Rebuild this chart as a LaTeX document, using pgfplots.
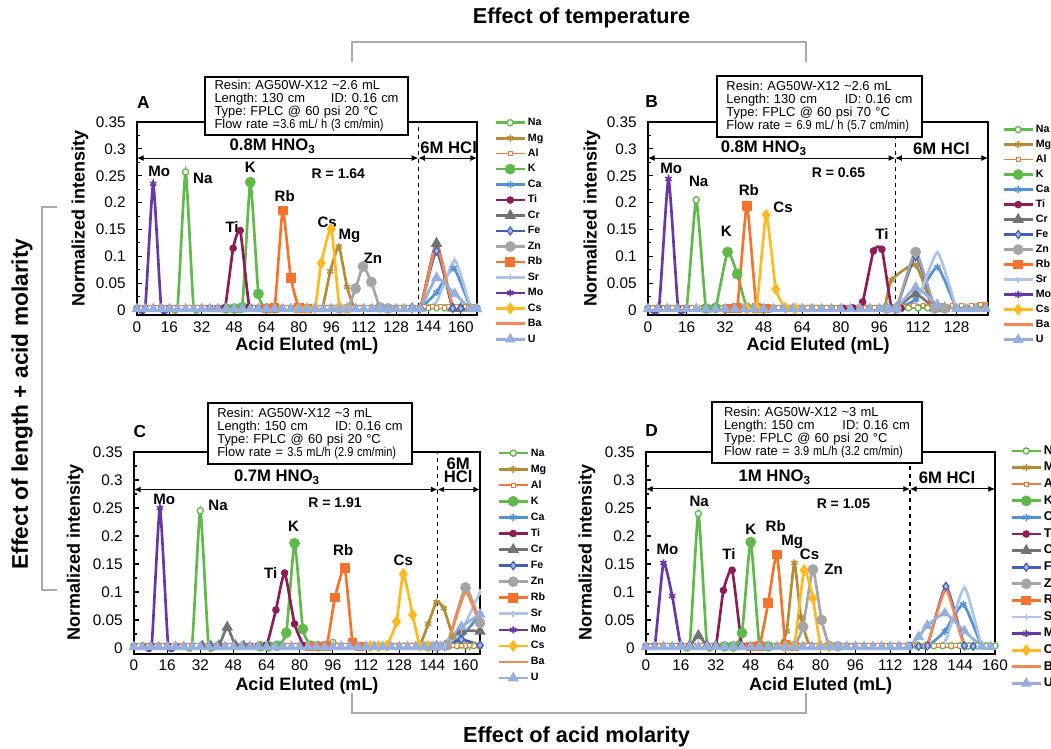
\documentclass[border=0pt]{standalone}
\usepackage{fontspec}
\setmainfont{Liberation Sans}
\usepackage{graphicx}
\usepackage{pgfplots}
\pgfplotsset{compat=1.18}
\usetikzlibrary{arrows.meta}

\definecolor{cNa}{RGB}{95,185,75}
\definecolor{cMg}{RGB}{178,140,55}
\definecolor{cAl}{RGB}{242,120,60}
\definecolor{cK}{RGB}{95,185,75}
\definecolor{cCa}{RGB}{85,145,210}
\definecolor{cTi}{RGB}{140,30,85}
\definecolor{cCr}{RGB}{115,115,115}
\definecolor{cFe}{RGB}{65,95,185}
\definecolor{cZn}{RGB}{165,165,165}
\definecolor{cRb}{RGB}{245,115,45}
\definecolor{cSr}{RGB}{172,196,234}
\definecolor{cMo}{RGB}{105,55,165}
\definecolor{cCs}{RGB}{255,185,35}
\definecolor{cBa}{RGB}{245,135,80}
\definecolor{cU}{RGB}{150,175,220}
\definecolor{brk}{RGB}{170,170,170}

\newcommand\fEl{\bfseries\fontsize{11.3}{12}\selectfont}
\newcommand\fAc{\bfseries\fontsize{12.5}{13}\selectfont}
\newcommand\fR{\bfseries\fontsize{10.5}{11}\selectfont}
\newcommand\fInfo{\fontsize{9.7}{9.8}\selectfont}

\tikzset{info/.style={draw, line width=1.6pt, fill=white, inner xsep=7pt, inner ysep=2pt, align=left, font=\fInfo}}

\pgfplotsset{
  elbase/.style={line width=2pt, smooth, tension=0.3},
  elNa/.style={elbase, color=cNa, mark=*, mark size=2.3pt, mark options={solid, fill=white, line width=1pt}},
  elMg/.style={elbase, color=cMg, mark=asterisk, mark size=2.7pt, mark options={solid, line width=1.1pt}},
  elAl/.style={elbase, color=cAl, line width=1.2pt, mark=square*, mark size=1.4pt, mark options={solid, fill=white, line width=0.7pt}},
  elK/.style={elbase, color=cK, mark=*, mark size=3pt, mark options={solid}},
  elCa/.style={elbase, color=cCa, mark=asterisk, mark size=2.7pt, mark options={solid, line width=1.1pt}},
  elTi/.style={elbase, color=cTi, mark=*, mark size=1.8pt, mark options={solid}},
  elCr/.style={elbase, color=cCr, mark=triangle*, mark size=3pt, mark options={solid}},
  elFe/.style={elbase, color=cFe, mark=diamond*, mark size=3pt, mark options={solid, fill=cFe!45!white, line width=0.9pt}},
  elZn/.style={elbase, color=cZn, mark=*, mark size=3pt, mark options={solid}},
  elRb/.style={elbase, color=cRb, mark=square*, mark size=2.6pt, mark options={solid}},
  elSr/.style={elbase, color=cSr, mark=|, mark size=2.2pt, mark options={solid, line width=1.1pt}},
  elMo/.style={elbase, color=cMo, mark=asterisk, mark size=2.7pt, mark options={solid, line width=1.2pt}},
  elCs/.style={elbase, color=cCs, mark=diamond*, mark size=3pt, mark options={solid}},
  elBa/.style={elbase, color=cBa, no marks},
  elU/.style={elbase, color=cU, mark=triangle*, mark size=2.8pt, mark options={solid}},
  panel/.style={
    scale only axis, anchor=south west,
    xmin=0, ymin=-0.01, ymax=0.35,
    axis line style={line width=1.5pt},
    tick pos=left, tick align=inside,
    major tick length=4pt, minor tick length=2.5pt,
    tick style={black, line width=0.8pt},
    ytick={0,0.05,0.1,0.15,0.2,0.25,0.3,0.35},
    yticklabels={0,0.05,0.1,0.15,0.2,0.25,0.3,0.35},
    minor ytick={0.025,0.075,0.125,0.175,0.225,0.275,0.325},
    /pgf/number format/assume math mode=true,
    tick label style={font=\fontsize{11.5}{12}\selectfont},
    yticklabel style={xshift=-5pt},
    xticklabel style={yshift=-1pt},
    xlabel={Acid Eluted (mL)}, ylabel={Normalized intensity},
    label style={font=\bfseries\fontsize{13.5}{14}\selectfont},
    xlabel style={at={(axis description cs:0.5,-0.16)}, anchor=center},
    ylabel style={at={(axis description cs:-0.168,0.5)}, anchor=center},
    legend cell align=left,
    legend image code/.code={\draw[mark repeat=2,mark phase=2,##1] plot coordinates {(0pt,0pt) (11pt,0pt) (22pt,0pt)};},
    legend style={draw=none, fill=none, inner sep=0pt, anchor=north west,
      nodes={inner sep=0pt, inner xsep=1.2pt, text height=6pt, text depth=1.7pt}},
  },
}

\begin{document}
\frenchspacing
\begin{tikzpicture}
\useasboundingbox (0,0) rectangle (788.25pt,561.75pt);

% ================= Panel A =================
\begin{axis}[panel, at={(102.75pt,325.2pt)}, width=255pt, height=145pt, xmax=168,
  xtick={0,16,...,160},
  legend style={at={(1.05,1.0245)}, font=\bfseries\fontsize{8}{8}\selectfont, row sep=3.9pt}]
\addplot[elNa] coordinates {(0,0.004)(4,0.004)(8,0.004)(12,0.004)(16,0.004)(20,0.004)(24,0.257)(28,0.004)(32,0.004)(36,0.004)(40,0.004)(44,0.004)(48,0.004)(52,0.004)(56,0.004)(60,0.004)(64,0.004)(68,0.004)(72,0.004)(76,0.004)(80,0.004)(84,0.004)(88,0.004)(92,0.004)(96,0.004)(100,0.004)(104,0.004)(108,0.004)(112,0.004)(116,0.004)(120,0.004)(124,0.004)(128,0.004)(132,0.004)(136,0.004)(140,0.004)(144,0.004)(148,0.004)(152,0.004)(156,0.004)(160,0.004)(164,0.004)(168,0.004)};
\addplot[elMg] coordinates {(87,0.003)(91.5,0.003)(95.5,0.072)(99.7,0.118)(103.8,0.043)(107.5,0.003)(112,0.003)};
\addplot[elAl] coordinates {(2,0.005)(6,0.005)(10,0.005)(14,0.005)(18,0.005)(22,0.005)(26,0.005)(30,0.005)(34,0.005)(38,0.005)(42,0.005)(46,0.005)(50,0.005)(54,0.005)(58,0.005)(62,0.005)(66,0.005)(70,0.005)(74,0.005)(78,0.005)(82,0.005)(86,0.005)(90,0.005)(94,0.005)(98,0.005)(102,0.005)(106,0.005)(110,0.005)(114,0.005)(118,0.005)(122,0.005)(126,0.005)(130,0.005)(134,0.005)(138,0.005)(142,0.006)(146,0.006)(150,0.006)(154,0.006)(158,0.006)(162,0.006)(166,0.006)};
\addplot[elK] coordinates {(44,0.003)(48,0.003)(52,0.005)(56,0.238)(60,0.03)(64,0.003)(68,0.003)};
\addplot[elCa] coordinates {(136,0.003)(140,0.003)(148,0.033)(156.5,0.078)(165,0.003)(168,0.003)};
\addplot[elTi] coordinates {(36,0.003)(40,0.003)(43.5,0.004)(47.5,0.115)(51,0.148)(55.5,0.006)(60,0.003)};
\addplot[elCr] coordinates {(136,0.003)(140,0.003)(148,0.124)(156,0.003)(160,0.003)};
\addplot[elFe] coordinates {(136,0.003)(140,0.003)(148,0.11)(156,0.003)(160,0.003)};
\addplot[elZn] coordinates {(100,0.003)(104,0.003)(108,0.04)(111.7,0.081)(115.8,0.052)(120,0.005)(124,0.003)};
\addplot[elRb] coordinates {(64,0.003)(68,0.004)(72,0.185)(76,0.06)(80,0.004)(84,0.003)};
\addplot[elSr] coordinates {(136,0.003)(140,0.003)(148,0.015)(157,0.093)(165,0.003)(168,0.003)};
\addplot[elMo] coordinates {(0,0.003)(4,0.003)(8,0.235)(12,0.003)(16,0.003)};
\addplot[elCs] coordinates {(80,0.003)(84,0.003)(88,0.004)(91,0.087)(96,0.151)(100,0.006)(104,0.003)};
\addplot[elBa] coordinates {(0,0.003)(132,0.003)(140,0.004)(148,0.12)(156,0.008)(162,0.008)(168,0.008)};
\addplot[elU] coordinates {(0,0.002)(4,0.002)(8,0.002)(12,0.002)(16,0.002)(20,0.002)(24,0.002)(28,0.002)(32,0.002)(36,0.002)(40,0.002)(44,0.002)(48,0.002)(52,0.002)(56,0.002)(60,0.002)(64,0.002)(68,0.002)(72,0.002)(76,0.002)(80,0.002)(84,0.002)(88,0.002)(92,0.002)(96,0.002)(100,0.002)(104,0.002)(108,0.002)(112,0.002)(116,0.002)(120,0.002)(124,0.002)(128,0.002)(132,0.002)(136,0.002)(140,0.002)(148,0.06)(157,0.03)(165,0.002)(168,0.002)};
\legend{Na,Mg,Al,K,Ca,Ti,Cr,Fe,Zn,Rb,Sr,Mo,Cs,Ba,U}
\draw[dashed, line width=0.9pt] (axis cs:139,-0.01) -- (axis cs:139,0.35);
\draw[{Latex[length=5pt,width=4.5pt]}-{Latex[length=5pt,width=4.5pt]}, line width=0.8pt] (axis cs:0,0.283) -- (axis cs:139,0.283);
\draw[{Latex[length=5pt,width=4.5pt]}-{Latex[length=5pt,width=4.5pt]}, line width=0.8pt] (axis cs:139,0.283) -- (axis cs:168,0.283);
\node[font=\fAc] at (axis cs:67,0.305) {0.8M HNO\textsubscript{3}};
\node[font=\fAc] at (axis cs:154,0.303) {6M HCl};
\node[font=\fR] at (axis cs:99.5,0.253) {R = 1.64};
\node[font=\fEl] at (axis cs:11,0.259) {Mo};
\node[font=\fEl] at (axis cs:32.5,0.245) {Na};
\node[font=\fEl] at (axis cs:47,0.155) {Ti};
\node[font=\fEl] at (axis cs:56,0.265) {K};
\node[font=\fEl] at (axis cs:73,0.212) {Rb};
\node[font=\fEl] at (axis cs:94,0.164) {Cs};
\node[font=\fEl] at (axis cs:105,0.138) {Mg};
\node[font=\fEl] at (axis cs:116.5,0.097) {Zn};
\end{axis}

% ================= Panel B =================
\begin{axis}[panel, at={(486pt,325.2pt)}, width=255pt, height=145pt, xmax=141,
  xtick={0,16,...,128},
  ylabel style={at={(axis description cs:-0.165,0.5)}},
  legend style={at={(1.041,0.989)}, font=\bfseries\fontsize{8}{8}\selectfont, row sep=3.55pt}]
\addplot[elNa] coordinates {(0,0.004)(4,0.004)(8,0.004)(12,0.004)(16,0.004)(20,0.205)(24,0.004)(28,0.004)(32,0.004)(36,0.004)(40,0.004)(44,0.004)(48,0.004)(52,0.004)(56,0.004)(60,0.004)(64,0.004)(68,0.004)(72,0.004)(76,0.004)(80,0.004)(84,0.004)(88,0.004)(92,0.004)(96,0.004)(100,0.004)(104,0.004)(108,0.004)(112,0.004)(116,0.004)(120,0.004)(124,0.004)(128,0.004)(132,0.004)(136,0.004)(140,0.004)};
\addplot[elMg] coordinates {(90,0.003)(94,0.003)(98,0.004)(101,0.056)(111,0.084)(118,0.004)(122,0.003)};
\addplot[elAl] coordinates {(2,0.005)(6,0.005)(10,0.005)(14,0.005)(18,0.005)(22,0.005)(26,0.005)(30,0.005)(34,0.005)(38,0.005)(42,0.005)(46,0.005)(50,0.005)(54,0.005)(58,0.005)(62,0.005)(66,0.005)(70,0.005)(74,0.005)(78,0.005)(82,0.005)(86,0.005)(90,0.005)(94,0.005)(98,0.005)(102,0.005)(106,0.007)(110,0.008)(114,0.008)(118,0.008)(122,0.008)(126,0.008)(130,0.008)(134,0.008)(138,0.01)};
\addplot[elK] coordinates {(24,0.003)(28,0.004)(33,0.108)(37,0.067)(41,0.004)(45,0.003)};
\addplot[elCa] coordinates {(99,0.003)(103,0.003)(111,0.02)(120,0.08)(128,0.003)(132,0.003)};
\addplot[elTi] coordinates {(81,0.003)(85,0.004)(89,0.015)(93.5,0.11)(97,0.113)(101,0.004)(105,0.003)};
\addplot[elCr] coordinates {(99,0.003)(103,0.003)(111,0.03)(119,0.003)(123,0.003)};
\addplot[elFe] coordinates {(99,0.003)(103,0.003)(111,0.1)(119,0.003)(123,0.003)};
\addplot[elZn] coordinates {(99,0.003)(103,0.003)(111,0.108)(119,0.003)(123,0.003)};
\addplot[elRb] coordinates {(33,0.003)(37,0.004)(41,0.194)(45,0.004)(49,0.003)};
\addplot[elSr] coordinates {(99,0.003)(103,0.003)(111,0.01)(120,0.107)(128,0.003)(132,0.003)};
\addplot[elMo] coordinates {(0,0.003)(4.5,0.003)(8.5,0.244)(12.5,0.003)(16,0.003)};
\addplot[elCs] coordinates {(41,0.003)(45,0.004)(49,0.177)(53,0.039)(57,0.004)(61,0.003)};
\addplot[elBa] coordinates {(0,0.003)(100,0.003)(103,0.005)(111,0.008)(120,0.01)(128,0.006)(134,0.006)(137,0.012)(141,0.012)};
\addplot[elU] coordinates {(0,0.002)(4,0.002)(8,0.002)(12,0.002)(16,0.002)(20,0.002)(24,0.002)(28,0.002)(32,0.002)(36,0.002)(40,0.002)(44,0.002)(48,0.002)(52,0.002)(56,0.002)(60,0.002)(64,0.002)(68,0.002)(72,0.002)(76,0.002)(80,0.002)(84,0.002)(88,0.002)(92,0.002)(96,0.002)(100,0.002)(103,0.002)(111,0.042)(120,0.01)(128,0.002)(132,0.002)(136,0.002)(140,0.002)};
\legend{Na,Mg,Al,K,Ca,Ti,Cr,Fe,Zn,Rb,Sr,Mo,Cs,Ba,U}
\draw[dashed, line width=0.9pt] (axis cs:102.5,-0.01) -- (axis cs:102.5,0.35);
\draw[{Latex[length=5pt,width=4.5pt]}-{Latex[length=5pt,width=4.5pt]}, line width=0.8pt] (axis cs:0,0.283) -- (axis cs:102.5,0.283);
\draw[{Latex[length=5pt,width=4.5pt]}-{Latex[length=5pt,width=4.5pt]}, line width=0.8pt] (axis cs:102.5,0.283) -- (axis cs:141,0.283);
\node[font=\fAc] at (axis cs:48,0.301) {0.8M HNO\textsubscript{3}};
\node[font=\fAc] at (axis cs:121.7,0.301) {6M HCl};
\node[font=\fR] at (axis cs:79,0.256) {R = 0.65};
\node[font=\fEl] at (axis cs:9.6,0.264) {Mo};
\node[font=\fEl] at (axis cs:21,0.24) {Na};
\node[font=\fEl] at (axis cs:32.5,0.146) {K};
\node[font=\fEl] at (axis cs:41.8,0.223) {Rb};
\node[font=\fEl] at (axis cs:56,0.192) {Cs};
\node[font=\fEl] at (axis cs:97,0.142) {Ti};
\end{axis}

% ================= Panel C =================
\begin{axis}[panel, at={(100.5pt,71.55pt)}, width=259.5pt, height=151.2pt, xmax=167,
  xtick={0,16,...,160},
  ylabel style={at={(axis description cs:-0.17,0.5)}},
  legend style={at={(1.049,1.021)}, font=\bfseries\fontsize{8}{8}\selectfont, row sep=4.35pt}]
\addplot[elNa] coordinates {(0,0.004)(4,0.004)(8,0.004)(12,0.004)(16,0.004)(20,0.004)(24,0.004)(28,0.004)(32,0.245)(36,0.004)(40,0.004)(44,0.004)(48,0.004)(52,0.004)(56,0.004)(60,0.004)(64,0.004)(68,0.004)(72,0.004)(76,0.004)(80,0.004)(84,0.004)(88,0.004)(92,0.004)(96,0.01)(100,0.004)(104,0.004)(108,0.004)(112,0.004)(116,0.004)(120,0.004)(124,0.004)(128,0.004)(132,0.004)(136,0.004)(140,0.004)(144,0.004)(148,0.004)(152,0.004)(156,0.004)(160,0.004)(164,0.004)(167,0.004)};
\addplot[elMg] coordinates {(130,0.003)(134,0.003)(138,0.005)(142,0.043)(146,0.082)(149.5,0.071)(154,0.02)(158,0.005)(162,0.003)};
\addplot[elAl] coordinates {(2,0.005)(6,0.005)(10,0.005)(14,0.005)(18,0.005)(22,0.005)(26,0.005)(30,0.005)(34,0.005)(38,0.005)(42,0.005)(46,0.005)(50,0.005)(54,0.005)(58,0.005)(62,0.005)(66,0.005)(70,0.005)(74,0.005)(78,0.005)(82,0.005)(86,0.005)(90,0.005)(94,0.005)(98,0.005)(102,0.005)(106,0.005)(110,0.005)(114,0.005)(118,0.005)(122,0.005)(126,0.005)(130,0.005)(134,0.005)(138,0.005)(142,0.005)(146,0.005)(150,0.005)(154,0.005)(158,0.005)(162,0.005)(166,0.005)};
\addplot[elK] coordinates {(61,0.003)(65,0.003)(69,0.004)(73.5,0.027)(77.5,0.187)(81.5,0.034)(85.5,0.004)(89,0.003)};
\addplot[elCa] coordinates {(146,0.003)(150,0.003)(158,0.02)(167,0.06)};
\addplot[elTi] coordinates {(56,0.003)(60,0.003)(64,0.005)(68.5,0.068)(72.7,0.134)(77.5,0.043)(82,0.004)(86,0.003)};
\addplot[elCr] coordinates {(33,0.003)(37,0.003)(41,0.004)(45,0.037)(49,0.004)(53,0.003)(146,0.003)(150,0.003)(158,0.03)(167,0.03)};
\addplot[elFe] coordinates {(146,0.003)(150,0.003)(158,0.015)(167,0.005)};
\addplot[elZn] coordinates {(142,0.003)(146,0.003)(151,0.005)(160,0.108)(167,0.045)};
\addplot[elRb] coordinates {(85,0.003)(89,0.003)(93,0.004)(97,0.09)(101.7,0.143)(105.5,0.01)(109,0.003)};
\addplot[elSr] coordinates {(146,0.003)(150,0.003)(158,0.03)(167,0.1)};
\addplot[elMo] coordinates {(0,0.003)(4.5,0.003)(8.5,0.004)(12.5,0.25)(16.5,0.004)(20.5,0.003)};
\addplot[elCs] coordinates {(114,0.003)(118,0.003)(122,0.004)(126.7,0.047)(130,0.132)(134.5,0.059)(138,0.004)(142,0.003)};
\addplot[elBa] coordinates {(0,0.003)(146,0.003)(151,0.005)(160,0.1)(167,0.04)};
\addplot[elU] coordinates {(0,0.002)(4,0.002)(8,0.002)(12,0.002)(16,0.002)(20,0.002)(24,0.002)(28,0.002)(32,0.002)(36,0.002)(40,0.002)(44,0.002)(48,0.002)(52,0.002)(56,0.002)(60,0.002)(64,0.002)(68,0.002)(72,0.002)(76,0.002)(80,0.002)(84,0.002)(88,0.002)(92,0.002)(96,0.002)(100,0.002)(104,0.002)(108,0.002)(112,0.002)(116,0.002)(120,0.002)(124,0.002)(128,0.002)(132,0.002)(136,0.002)(140,0.002)(144,0.002)(148,0.002)(158,0.038)(167,0.06)};
\legend{Na,Mg,Al,K,Ca,Ti,Cr,Fe,Zn,Rb,Sr,Mo,Cs,Ba,U}
\draw[dashed, line width=0.9pt] (axis cs:146.5,-0.01) -- (axis cs:146.5,0.35);
\draw[{Latex[length=5pt,width=4.5pt]}-{Latex[length=5pt,width=4.5pt]}, line width=0.8pt] (axis cs:0,0.283) -- (axis cs:146.5,0.283);
\draw[{Latex[length=5pt,width=4.5pt]}-{Latex[length=5pt,width=4.5pt]}, line width=0.8pt] (axis cs:146.5,0.283) -- (axis cs:167,0.283);
\node[font=\fAc] at (axis cs:69,0.305) {0.7M HNO\textsubscript{3}};
\node[font=\fAc, align=center] at (axis cs:156.5,0.317) {6M\\[-3pt]HCl};
\node[font=\fR] at (axis cs:97,0.26) {R = 1.91};
\node[font=\fEl] at (axis cs:14.6,0.266) {Mo};
\node[font=\fEl] at (axis cs:40.6,0.254) {Na};
\node[font=\fEl] at (axis cs:66,0.134) {Ti};
\node[font=\fEl] at (axis cs:77,0.217) {K};
\node[font=\fEl] at (axis cs:101,0.175) {Rb};
\node[font=\fEl] at (axis cs:130,0.156) {Cs};
\end{axis}

% ================= Panel D =================
\begin{axis}[panel, at={(484.5pt,71.55pt)}, width=261.75pt, height=151.2pt, xmax=160,
  xtick={0,16,...,160},
  ylabel style={at={(axis description cs:-0.169,0.5)}},
  legend style={at={(1.043,1.036)}, font=\bfseries\fontsize{9.5}{9.5}\selectfont, row sep=3.45pt,
    nodes={text height=7pt, text depth=2pt}}]
\addplot[elNa] coordinates {(0,0.004)(4,0.004)(8,0.004)(12,0.004)(16,0.004)(20,0.004)(24,0.24)(28,0.004)(32,0.004)(36,0.004)(40,0.004)(44,0.004)(48,0.004)(52,0.004)(56,0.004)(60,0.004)(64,0.004)(68,0.004)(72,0.004)(76,0.004)(80,0.004)(84,0.004)(88,0.004)(92,0.004)(96,0.004)(100,0.004)(104,0.004)(108,0.004)(112,0.004)(116,0.004)(120,0.004)(124,0.004)(128,0.004)(132,0.004)(136,0.004)(140,0.004)(144,0.004)(148,0.004)(152,0.004)(156,0.004)(160,0.004)};
\addplot[elMg] coordinates {(57,0.003)(61,0.003)(64.5,0.03)(68,0.152)(71,0.055)(75,0.004)(79,0.003)};
\addplot[elAl] coordinates {(2,0.005)(6,0.005)(10,0.005)(14,0.005)(18,0.005)(22,0.005)(26,0.005)(30,0.005)(34,0.005)(38,0.005)(42,0.005)(46,0.005)(50,0.005)(54,0.005)(58,0.005)(62,0.005)(66,0.005)(70,0.005)(74,0.005)(78,0.005)(82,0.005)(86,0.005)(90,0.005)(94,0.005)(98,0.005)(102,0.005)(106,0.005)(110,0.005)(114,0.005)(118,0.005)(122,0.005)(126,0.005)(130,0.005)(134,0.005)(138,0.005)(142,0.005)(146,0.005)(150,0.005)(154,0.005)(158,0.005)};
\addplot[elK] coordinates {(36,0.003)(40,0.003)(44,0.027)(48,0.189)(52,0.004)(56,0.003)};
\addplot[elCa] coordinates {(121,0.003)(125,0.003)(129,0.003)(137,0.03)(145.5,0.078)(154,0.003)(158,0.003)};
\addplot[elTi] coordinates {(28,0.003)(32,0.004)(35.5,0.103)(39.5,0.139)(44,0.004)(48,0.003)};
\addplot[elCr] coordinates {(16,0.003)(20,0.004)(24,0.022)(28,0.004)(32,0.003)};
\addplot[elFe] coordinates {(121,0.003)(125,0.003)(129,0.004)(137.5,0.11)(146,0.004)(150,0.003)};
\addplot[elZn] coordinates {(64,0.003)(68,0.004)(72,0.038)(76.5,0.14)(80.5,0.05)(84,0.004)(88,0.003)};
\addplot[elRb] coordinates {(48,0.003)(52,0.004)(56,0.08)(60,0.167)(64,0.005)(68,0.003)};
\addplot[elSr] coordinates {(121,0.003)(125,0.003)(129,0.004)(137,0.01)(146,0.108)(154,0.003)(158,0.003)};
\addplot[elMo] coordinates {(0,0.003)(4,0.004)(8,0.152)(12,0.093)(16,0.004)(20,0.003)};
\addplot[elCs] coordinates {(64,0.003)(68,0.004)(72.5,0.139)(76.5,0.089)(80,0.004)(84,0.003)};
\addplot[elBa] coordinates {(0,0.003)(121,0.003)(125,0.005)(129,0.006)(137.5,0.105)(146,0.006)(160,0.006)};
\addplot[elU] coordinates {(0,0.002)(4,0.002)(8,0.002)(12,0.002)(16,0.002)(20,0.002)(24,0.002)(28,0.002)(32,0.002)(36,0.002)(40,0.002)(44,0.002)(48,0.002)(52,0.002)(56,0.002)(60,0.002)(64,0.002)(68,0.002)(72,0.002)(76,0.002)(80,0.002)(84,0.002)(88,0.002)(92,0.002)(96,0.002)(100,0.002)(104,0.002)(108,0.002)(112,0.002)(116,0.002)(120,0.002)(125,0.02)(129,0.04)(137,0.062)(146,0.03)(154,0.003)(158,0.002)};
\legend{Na,Mg,Al,K,Ca,Ti,Cr,Fe,Zn,Rb,Sr,Mo,Cs,Ba,U}
\draw[dashed, line width=0.9pt] (axis cs:121,-0.01) -- (axis cs:121,0.35);
\draw[{Latex[length=5pt,width=4.5pt]}-{Latex[length=5pt,width=4.5pt]}, line width=0.8pt] (axis cs:0,0.284) -- (axis cs:121,0.284);
\draw[{Latex[length=5pt,width=4.5pt]}-{Latex[length=5pt,width=4.5pt]}, line width=0.8pt] (axis cs:121,0.284) -- (axis cs:160,0.284);
\node[font=\fAc] at (axis cs:59,0.305) {1M HNO\textsubscript{3}};
\node[font=\fAc] at (axis cs:138,0.305) {6M HCl};
\node[font=\fR] at (axis cs:90.5,0.257) {R = 1.05};
\node[font=\fEl] at (axis cs:9.8,0.176) {Mo};
\node[font=\fEl] at (axis cs:24.4,0.261) {Na};
\node[font=\fEl] at (axis cs:38,0.167) {Ti};
\node[font=\fEl] at (axis cs:48,0.212) {K};
\node[font=\fEl] at (axis cs:59.5,0.217) {Rb};
\node[font=\fEl] at (axis cs:67,0.19) {Mg};
\node[font=\fEl] at (axis cs:75,0.167) {Cs};
\node[font=\fEl] at (axis cs:86,0.141) {Zn};
\end{axis}

% ================= Info boxes =================
\node[info, text width=138pt, minimum width=152pt, minimum height=43.5pt] at (229.9pt,482.25pt)
 {Resin: AG50W-X12 \textasciitilde2.6 mL\\Length: 130 cm\hfill ID: 0.16 cm\\Type: FPLC @ 60 psi 20 °C\\Flow rate =\scalebox{0.85}[1]{3.6 mL/ h (3 cm/min)}};
\node[info, text width=139.5pt, minimum width=153.5pt, minimum height=45.75pt] at (614.6pt,481.9pt)
 {Resin: AG50W-X12 \textasciitilde2.6 mL\\Length: 130 cm\hfill ID: 0.16 cm\\Type: FPLC @ 60 psi 70 °C\\Flow rate = \scalebox{0.85}[1]{6.9 mL/ h (5.7 cm/min)}};
\node[info, text width=139pt, minimum width=153pt, minimum height=45.75pt] at (232.5pt,236.6pt)
 {Resin: AG50W-X12 \textasciitilde3 mL\\Length: 150 cm\hfill ID: 0.16 cm\\Type: FPLC @ 60 psi 20 °C\\Flow rate = \scalebox{0.85}[1]{3.5 mL/h (2.9 cm/min)}};
\node[info, inner xsep=9pt, text width=139.5pt, minimum width=157.5pt, minimum height=45.75pt] at (612.75pt,237.4pt)
 {Resin: AG50W-X12 \textasciitilde3 mL\\Length: 150 cm\hfill ID: 0.16 cm\\Type: FPLC @ 60 psi 20 °C\\Flow rate = \scalebox{0.85}[1]{3.9 mL/h (3.2 cm/min)}};

% ================= Panel letters =================
\node[font=\bfseries\fontsize{13}{13}\selectfont] at (107.5pt,485pt) {A};
\node[font=\bfseries\fontsize{13}{13}\selectfont] at (488.75pt,485.5pt) {B};
\node[font=\bfseries\fontsize{13}{13}\selectfont] at (105pt,238pt) {C};
\node[font=\bfseries\fontsize{13}{13}\selectfont] at (488.75pt,238.5pt) {D};

% ================= Brackets and titles =================
\draw[brk, line width=1.2pt] (264pt,515.25pt) -- (264pt,530.25pt) -- (604.5pt,530.25pt) -- (604.5pt,515.25pt);
\draw[brk, line width=1.2pt] (264pt,42pt) -- (264pt,27pt) -- (604.5pt,27pt) -- (604.5pt,42pt);
\draw[brk, line width=1.2pt] (42.75pt,406.5pt) -- (31.5pt,406.5pt) -- (31.5pt,119.25pt) -- (42.75pt,119.25pt);
\node[font=\bfseries\fontsize{16.2}{17}\selectfont] at (436.1pt,548.25pt) {Effect of temperature};
\node[font=\bfseries\fontsize{16.3}{17}\selectfont] at (432.4pt,9pt) {Effect of acid molarity};
\node[font=\bfseries\fontsize{17}{18}\selectfont, rotate=90, fill=white, inner sep=1pt] at (16.5pt,258.75pt) {Effect of length + acid molarity};
\end{tikzpicture}
\end{document}
